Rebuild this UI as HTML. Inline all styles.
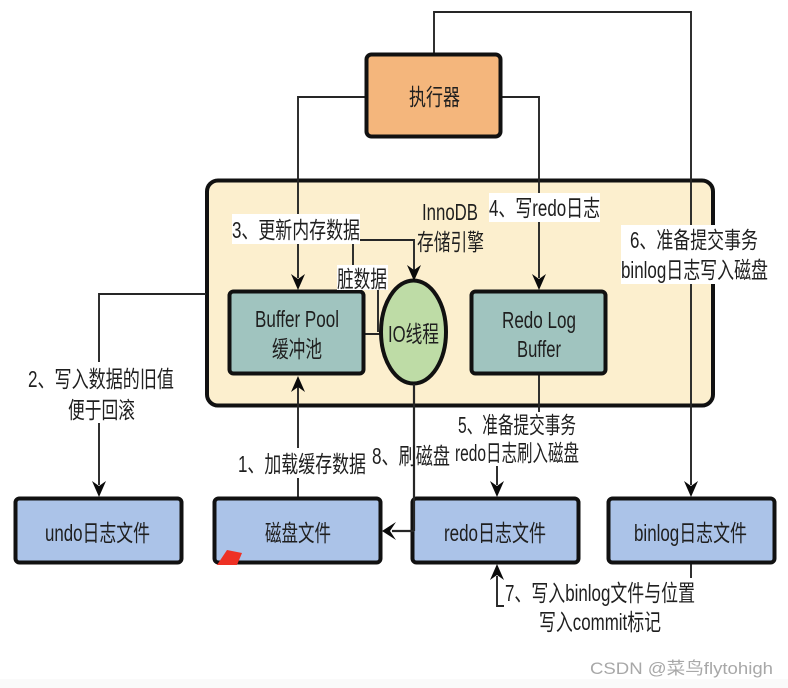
<!DOCTYPE html>
<html><head><meta charset="utf-8"><style>
html,body{margin:0;padding:0;background:#fff}
svg{display:block;filter:blur(.35px)}
text{font-family:"Liberation Sans","Noto Sans CJK SC",sans-serif;font-size:23px;fill:#1f1f1f}
.l{fill:none;stroke:#262626;stroke-width:1.9}
.a{fill:#0a0a0a}
</style></head><body>
<svg width="788" height="688" viewBox="0 0 788 688" xmlns="http://www.w3.org/2000/svg">
<rect width="788" height="688" fill="#fff"/>
<rect y="679" width="788" height="9" fill="#fafafa"/>
<!-- engine -->
<rect x="207" y="180.500" width="506" height="225" rx="11" fill="#fcefce" stroke="#111" stroke-width="4"/>
<!-- connectors -->
<path class="l" d="M434 53V12H691V485"/>
<path class="l" d="M365 97H298V278"/>
<path class="l" d="M501 97H539V278"/>
<path class="l" d="M206 294H99V485"/>
<path class="l" d="M298 497V386"/>
<path class="l" d="M360 240H414V270"/>
<path class="l" d="M353 240V265M378 290V332M365 334H381"/>
<path class="l" d="M539 374V412M497 466V485"/>
<path class="l" d="M691 563V578M497 576V606H505"/>
<!-- nodes -->
<rect x="366.500" y="54.500" width="134" height="82" rx="5" fill="#f4b67c" stroke="#111" stroke-width="4"/>
<rect x="229.500" y="291.500" width="134" height="82" rx="4" fill="#a0c4bf" stroke="#111" stroke-width="4"/>
<rect x="471.500" y="291.500" width="134" height="82" rx="4" fill="#a0c4bf" stroke="#111" stroke-width="4"/>
<ellipse cx="413.500" cy="332" rx="32.500" ry="51.500" fill="#bedca6" stroke="#111" stroke-width="4"/>
<rect x="15.500" y="498.500" width="166" height="64" rx="4" fill="#abc3e8" stroke="#111" stroke-width="4"/>
<rect x="214.500" y="498.500" width="166" height="64" rx="4" fill="#abc3e8" stroke="#111" stroke-width="4"/>
<rect x="412.500" y="498.500" width="166" height="64" rx="4" fill="#abc3e8" stroke="#111" stroke-width="4"/>
<rect x="608.500" y="498.500" width="166" height="64" rx="4" fill="#abc3e8" stroke="#111" stroke-width="4"/>
<polygon points="217,565 227,550 242,553 237,565" fill="#ee3124"/>
<!-- label backgrounds -->
<g fill="#fff">
<rect x="232" y="214" width="128" height="30"/>
<rect x="337" y="265" width="51" height="25"/>
<rect x="489" y="193" width="111" height="29"/>
<rect x="621" y="225" width="148" height="59"/>
<rect x="25" y="362" width="151" height="61"/>
<rect x="236" y="448" width="132" height="30"/>
<rect x="455" y="412" width="125" height="54"/>
<rect x="504" y="578" width="192" height="56"/>
</g>
<path class="l" d="M414 384V531M414 531H392" style="stroke-width:2.2"/>
<!-- arrowheads -->
<path class="a" d="M291 274L298 279L305 274L298 290Z"/>
<path class="a" d="M532 274L539 279L546 274L539 290Z"/>
<path class="a" d="M92 481L99 486L106 481L99 497Z"/>
<path class="a" d="M684 481L691 486L698 481L691 497Z"/>
<path class="a" d="M490 481L497 486L504 481L497 497Z"/>
<path class="a" d="M407 265L414 270L421 265L414 281Z"/>
<path class="a" d="M291 392L298 387L305 392L298 376Z"/>
<path class="a" d="M490 580L497 575L504 580L497 564Z"/>
<path class="a" d="M396 522L390 531L396 540L382 531Z"/>
<!-- text -->
<text x="409" y="105" textLength="51" lengthAdjust="spacingAndGlyphs">执行器</text>
<text x="232" y="238" textLength="128" lengthAdjust="spacingAndGlyphs">3、更新内存数据</text>
<text x="422" y="220" textLength="56" lengthAdjust="spacingAndGlyphs">InnoDB</text>
<text x="417" y="250" textLength="67" lengthAdjust="spacingAndGlyphs">存储引擎</text>
<text x="337" y="287" textLength="50" lengthAdjust="spacingAndGlyphs">脏数据</text>
<text x="255" y="327" textLength="84" lengthAdjust="spacingAndGlyphs">Buffer Pool</text>
<text x="272" y="357" textLength="50" lengthAdjust="spacingAndGlyphs">缓冲池</text>
<text x="388" y="342" textLength="51" lengthAdjust="spacingAndGlyphs">IO线程</text>
<text x="489" y="216" textLength="111" lengthAdjust="spacingAndGlyphs">4、写redo日志</text>
<text x="502" y="328" textLength="74" lengthAdjust="spacingAndGlyphs">Redo Log</text>
<text x="517" y="357" textLength="44" lengthAdjust="spacingAndGlyphs">Buffer</text>
<text x="630" y="248" textLength="128" lengthAdjust="spacingAndGlyphs">6、准备提交事务</text>
<text x="621" y="278" textLength="147" lengthAdjust="spacingAndGlyphs">binlog日志写入磁盘</text>
<text x="28" y="387" textLength="146" lengthAdjust="spacingAndGlyphs">2、写入数据的旧值</text>
<text x="68" y="418" textLength="67" lengthAdjust="spacingAndGlyphs">便于回滚</text>
<text x="238" y="472" textLength="128" lengthAdjust="spacingAndGlyphs">1、加载缓存数据</text>
<text x="372" y="464" textLength="78" lengthAdjust="spacingAndGlyphs">8、刷磁盘</text>
<text x="458" y="433" textLength="118" lengthAdjust="spacingAndGlyphs">5、准备提交事务</text>
<text x="455" y="461" textLength="124" lengthAdjust="spacingAndGlyphs">redo日志刷入磁盘</text>
<text x="45" y="541" textLength="105" lengthAdjust="spacingAndGlyphs">undo日志文件</text>
<text x="265" y="541" textLength="66" lengthAdjust="spacingAndGlyphs">磁盘文件</text>
<text x="444" y="541" textLength="102" lengthAdjust="spacingAndGlyphs">redo日志文件</text>
<text x="634" y="541" textLength="113" lengthAdjust="spacingAndGlyphs">binlog日志文件</text>
<text x="505" y="601" textLength="190" lengthAdjust="spacingAndGlyphs">7、写入binlog文件与位置</text>
<text x="539" y="630" textLength="122" lengthAdjust="spacingAndGlyphs">写入commit标记</text>
<text x="590" y="674" textLength="183" lengthAdjust="spacingAndGlyphs" style="font-size:17px;fill:#a8a8a8">CSDN @菜鸟flytohigh</text>
</svg>
</body></html>
